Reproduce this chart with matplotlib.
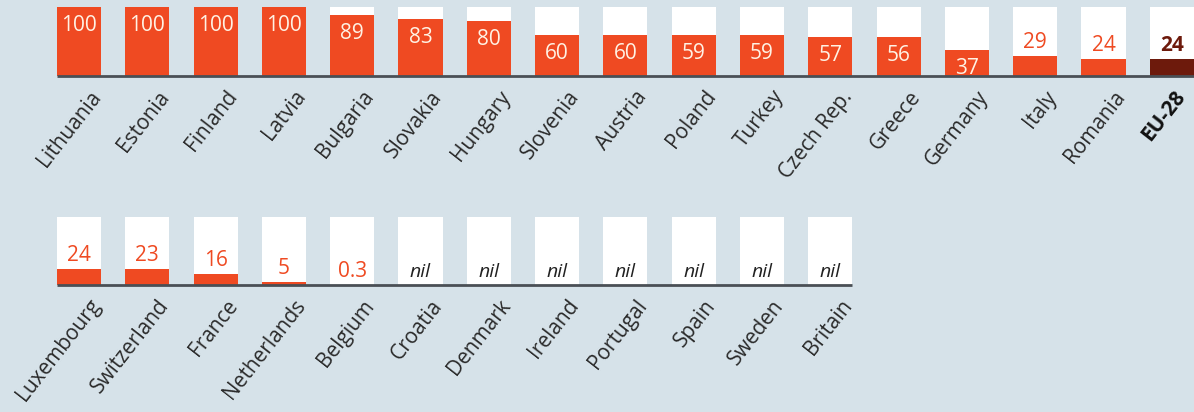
import matplotlib
matplotlib.use("Agg")
import matplotlib.pyplot as plt
import matplotlib.transforms as mtransforms

# share of ... by country, per cent (None = nil)
top_countries = ["Lithuania", "Estonia", "Finland", "Latvia", "Bulgaria", "Slovakia",
                 "Hungary", "Slovenia", "Austria", "Poland", "Turkey", "Czech Rep.",
                 "Greece", "Germany", "Italy", "Romania", "EU-28"]
top_values = [100, 100, 100, 100, 89, 83, 80, 60, 60, 59, 59, 57, 56, 37, 29, 24, 24]

bottom_countries = ["Luxembourg", "Switzerland", "France", "Netherlands", "Belgium",
                    "Croatia", "Denmark", "Ireland", "Portugal", "Spain", "Sweden", "Britain"]
bottom_values = [24, 23, 16, 5, 0.3, None, None, None, None, None, None, None]

BG = "#d6e2e9"
ORANGE = "#ef4a22"
DARK = "#6d1a0c"
CREAM = "#fff2e4"
FONT = "Open Sans"

W, H = 1194, 412
fig = plt.figure(figsize=(W / 100, H / 100), dpi=100)
fig.patch.set_facecolor(BG)

step = 68.3      # px between bar centres
first = 79.0     # px of first bar centre
width = 0.645


def px(fig, dx, dy):
    return mtransforms.ScaledTranslation(dx / 100, dy / 100, fig.dpi_scale_trans)


def draw_row(base_px, top_px, countries, values):
    ax = fig.add_axes([0, 1 - base_px / H, 1, (base_px - top_px) / H])
    ax.set_xlim(-first / step, (W - first) / step)
    ax.set_ylim(0, 100)
    ax.axis("off")
    n = len(countries)
    xs = list(range(n))
    ax.bar(xs, [100] * n, width=width, color="white", zorder=1)
    vals = [0 if v is None else v for v in values]
    colours = [DARK if c == "EU-28" else ORANGE for c in countries]
    ax.bar(xs, vals, width=width, color=colours, zorder=2)
    ax.plot([-width / 2, n - 1 + width / 2], [0, 0], color="#4a4f55", lw=2,
            solid_capstyle="butt", zorder=3, clip_on=False)

    for x, c, v in zip(xs, countries, values):
        eu = c == "EU-28"
        if v is None:
            ax.text(x, 0, "nil", ha="center", va="bottom", fontsize=14,
                    style="italic", color="#222222", family=FONT,
                    transform=ax.transData + px(fig, 0, 4), zorder=4)
        elif v >= 30:
            ax.text(x, v, f"{v:g}", ha="center", va="top", fontsize=15,
                    color=CREAM, family=FONT,
                    transform=ax.transData + px(fig, 0, -8), zorder=4)
        else:
            ax.text(x, v, f"{v:g}", ha="center", va="bottom", fontsize=15,
                    color=DARK if eu else ORANGE, family=FONT,
                    weight="bold" if eu else "normal",
                    transform=ax.transData + px(fig, 0, 3), zorder=4)

        # the last label sits against the right edge, so pull it in a little
        dx = 10 if eu else 18
        ax.text(x, 0, c, rotation=52, rotation_mode="anchor", ha="right", va="center",
                fontsize=15, color="#2a2a2a" if not eu else "#111111",
                weight="bold" if eu else "normal", family=FONT,
                transform=ax.transData + px(fig, dx, -17), zorder=4)
    return ax


draw_row(76, 7, top_countries, top_values)
draw_row(285, 217, bottom_countries, bottom_values)

fig.savefig("out.png", dpi=100, facecolor=BG)
